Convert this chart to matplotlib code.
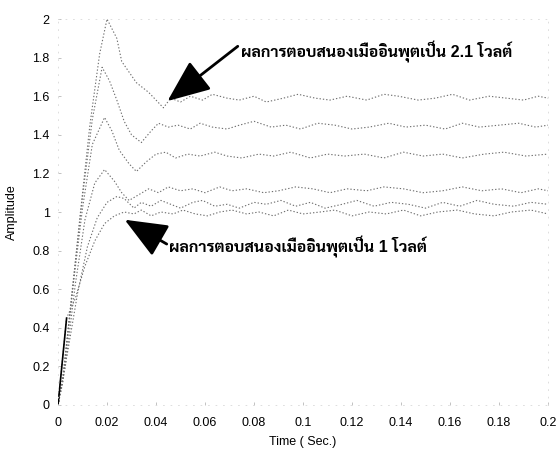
import matplotlib
matplotlib.use('Agg')
from matplotlib import pyplot as plt

# step responses (time in sec, amplitude)
t_21v = [0, 0.002, 0.005, 0.009, 0.013, 0.017, 0.020, 0.024, 0.026, 0.032, 0.037, 0.043, 0.046,
         0.050, 0.054, 0.059, 0.063, 0.069, 0.074, 0.080, 0.085, 0.092, 0.098, 0.105, 0.111,
         0.118, 0.126, 0.133, 0.139, 0.147, 0.154, 0.161, 0.168, 0.176, 0.183, 0.190, 0.196, 0.200]
y_21v = [0, 0.12, 0.48, 0.98, 1.45, 1.82, 2.00, 1.90, 1.78, 1.67, 1.62, 1.54, 1.59,
         1.57, 1.60, 1.58, 1.61, 1.59, 1.58, 1.60, 1.57, 1.59, 1.61, 1.59, 1.58,
         1.60, 1.58, 1.61, 1.60, 1.58, 1.59, 1.61, 1.58, 1.60, 1.59, 1.58, 1.60, 1.59]

t_c2 = [0, 0.002, 0.006, 0.010, 0.014, 0.018, 0.021, 0.024, 0.027, 0.030, 0.034, 0.038, 0.041,
        0.045, 0.049, 0.054, 0.058, 0.063, 0.069, 0.074, 0.080, 0.087, 0.093, 0.099, 0.106,
        0.113, 0.120, 0.127, 0.135, 0.142, 0.150, 0.158, 0.165, 0.172, 0.180, 0.188, 0.195, 0.200]
y_c2 = [0, 0.14, 0.62, 1.08, 1.48, 1.75, 1.68, 1.58, 1.47, 1.40, 1.36, 1.42, 1.46,
        1.44, 1.45, 1.43, 1.46, 1.44, 1.43, 1.45, 1.47, 1.44, 1.45, 1.43, 1.46,
        1.45, 1.43, 1.44, 1.46, 1.44, 1.45, 1.43, 1.46, 1.44, 1.45, 1.46, 1.44, 1.45]

t_c3 = [0, 0.002, 0.006, 0.010, 0.014, 0.019, 0.022, 0.025, 0.029, 0.032, 0.036, 0.040, 0.044,
        0.048, 0.053, 0.058, 0.064, 0.069, 0.075, 0.082, 0.088, 0.095, 0.103, 0.110, 0.117,
        0.125, 0.133, 0.141, 0.149, 0.157, 0.165, 0.174, 0.182, 0.191, 0.200]
y_c3 = [0, 0.15, 0.60, 1.02, 1.35, 1.49, 1.42, 1.32, 1.25, 1.21, 1.26, 1.30, 1.31,
        1.28, 1.30, 1.29, 1.31, 1.29, 1.28, 1.30, 1.29, 1.31, 1.28, 1.30, 1.29,
        1.30, 1.28, 1.31, 1.29, 1.30, 1.28, 1.30, 1.31, 1.29, 1.30]

t_c4 = [0, 0.003, 0.007, 0.011, 0.015, 0.019, 0.023, 0.026, 0.029, 0.033, 0.037, 0.041, 0.045,
        0.050, 0.055, 0.060, 0.066, 0.071, 0.077, 0.084, 0.090, 0.097, 0.104, 0.111, 0.118,
        0.126, 0.133, 0.141, 0.149, 0.157, 0.165, 0.173, 0.181, 0.189, 0.196, 0.200]
y_c4 = [0, 0.20, 0.62, 0.96, 1.15, 1.22, 1.16, 1.10, 1.06, 1.09, 1.12, 1.10, 1.13,
        1.11, 1.12, 1.10, 1.13, 1.11, 1.12, 1.10, 1.11, 1.13, 1.12, 1.10, 1.12,
        1.11, 1.13, 1.12, 1.10, 1.11, 1.13, 1.11, 1.12, 1.10, 1.12, 1.11]

t_c5 = [0, 0.004, 0.008, 0.012, 0.016, 0.020, 0.024, 0.027, 0.031, 0.034, 0.038, 0.042, 0.046,
        0.050, 0.055, 0.059, 0.064, 0.069, 0.074, 0.080, 0.085, 0.091, 0.097, 0.103, 0.109,
        0.116, 0.122, 0.129, 0.136, 0.143, 0.150, 0.157, 0.164, 0.171, 0.178, 0.186, 0.193, 0.200]
y_c5 = [0, 0.28, 0.58, 0.82, 0.97, 1.05, 1.08, 1.07, 1.02, 1.05, 1.03, 1.06, 1.04,
        1.02, 1.05, 1.06, 1.03, 1.04, 1.02, 1.05, 1.04, 1.06, 1.03, 1.05, 1.02,
        1.04, 1.06, 1.03, 1.05, 1.04, 1.02, 1.05, 1.03, 1.06, 1.04, 1.03, 1.05, 1.04]

t_1v = [0, 0.0035, 0.007, 0.011, 0.015, 0.019, 0.023, 0.027, 0.031, 0.034, 0.038, 0.042, 0.047,
        0.051, 0.056, 0.061, 0.066, 0.071, 0.077, 0.082, 0.088, 0.094, 0.100, 0.107, 0.113,
        0.120, 0.127, 0.134, 0.141, 0.148, 0.155, 0.163, 0.170, 0.178, 0.185, 0.193, 0.200]
y_1v = [0, 0.45, 0.55, 0.72, 0.85, 0.94, 0.98, 1.00, 0.99, 1.01, 0.98, 1.00, 0.99,
        1.01, 0.99, 0.98, 1.00, 1.01, 0.99, 1.00, 0.98, 1.01, 0.99, 1.00, 1.01,
        0.98, 1.00, 0.99, 1.01, 0.98, 1.00, 1.01, 0.99, 0.98, 1.00, 1.01, 0.99]

xticks = [0, 0.02, 0.04, 0.06, 0.08, 0.1, 0.12, 0.14, 0.16, 0.18, 0.2]
xtick_labels = ['0', '0.02', '0.04', '0.06', '0.08', '0.1', '0.12', '0.14', '0.16', '0.18', '0.2']
yticks = [0, 0.2, 0.4, 0.6, 0.8, 1, 1.2, 1.4, 1.6, 1.8, 2]
ytick_labels = ['0', '0.2', '0.4', '0.6', '0.8', '1', '1.2', '1.4', '1.6', '1.8', '2']

note_hi = 'ผลการตอบสนองเมื่ออินพุตเป็น 2.1 โวลต์'
note_lo = 'ผลการตอบสนองเมื่ออินพุตเป็น 1 โวลต์'

plt.rcParams['font.family'] = ['Liberation Sans', 'DejaVu Sans']
thai_font = ['Liberation Sans', 'Sarabun', 'Noto Sans Thai', 'Anuphan']

fig = plt.figure(figsize=(5.6, 4.53), dpi=100)
ax = fig.add_axes([0.1036, 0.106, 0.875, 0.852])

dots = dict(color='#6e6e6e', lw=0.8, linestyle=(0, (1.2, 1.8)))
for t, y in [(t_21v, y_21v), (t_c2, y_c2), (t_c3, y_c3), (t_c4, y_c4), (t_c5, y_c5), (t_1v, y_1v)]:
    ax.plot(t, y, **dots)
# the first bit of the 1 V response prints as a solid dark stroke
ax.plot(t_1v[:2], y_1v[:2], color='k', lw=1.2)

ax.set_xlim(0, 0.2)
ax.set_ylim(0, 2)
ax.set_xticks(xticks)
ax.set_xticklabels(xtick_labels)
ax.set_yticks(yticks)
ax.set_yticklabels(ytick_labels)
ax.tick_params(direction='in', length=2, width=0.5, color='#aaaaaa', labelsize=9)
ax.tick_params(axis='x', pad=9)
ax.tick_params(axis='y', pad=6)
for s in ax.spines.values():
    s.set_color('#d8d8d8')
    s.set_linestyle((0, (1, 8)))
    s.set_linewidth(0.6)

ax.set_xlabel('Time ( Sec.)', fontsize=9, labelpad=5)
ax.set_ylabel('Amplitude', fontsize=9, labelpad=10)

arrow_hi = dict(arrowstyle='-|>,head_length=1.2,head_width=0.5', mutation_scale=22,
                lw=2, color='k', shrinkA=0, shrinkB=0, relpos=(0, 0.85))
arrow_lo = dict(arrow_hi, relpos=(0, 0.55))
ax.annotate(note_hi, xy=(0.0447, 1.575), xytext=(0.0745, 1.83), family=thai_font,
            fontsize=11.5, fontweight='bold', va='center', ha='left', arrowprops=arrow_hi)
ax.annotate(note_lo, xy=(0.0272, 0.96), xytext=(0.0455, 0.82), family=thai_font,
            fontsize=11.5, fontweight='bold', va='center', ha='left', arrowprops=arrow_lo)

fig.savefig('out.png')
